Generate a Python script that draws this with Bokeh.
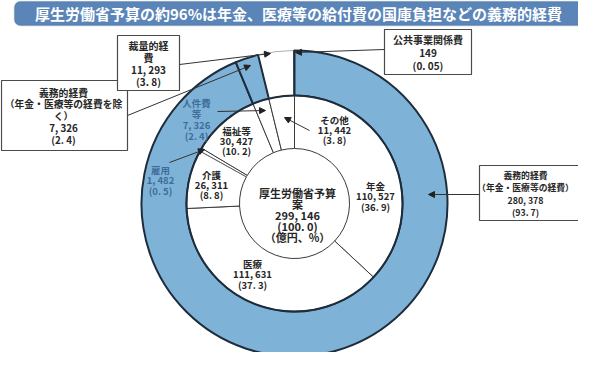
import math
from bokeh.plotting import figure
from bokeh.models import Arrow, NormalHead, BoxAnnotation, Label
from bokeh.core.properties import value
from bokeh.embed import file_html
from bokeh.resources import INLINE

# ---------------- data ----------------
title = "厚生労働省予算の約96%は年金、医療等の給付費の国庫負担などの義務的経費"

inner_names = ["年金", "医療", "介護", "雇用", "福祉等", "人件費等", "その他"]
inner_values = [110527, 111631, 26311, 1482, 30427, 7326, 11442]
inner_pcts = ["36.9", "37.3", "8.8", "0.5", "10.2", "2.4", "3.8"]

outer_names = ["義務的経費（年金・医療等の経費）", "義務的経費（年金・医療等の経費を除く）",
               "裁量的経費", "公共事業関係費"]
outer_values = [280378, 7326, 11293, 149]
outer_pcts = ["93.7", "2.4", "3.8", "0.05"]

total_name = "厚生労働省予算案"
total_value = 299146
total_pct = "100.0"
unit_text = "（億円、%）"

# ---------------- style / layout ----------------
FONT_NAME = "Noto Sans CJK JP"
FONT = value(FONT_NAME)
W, H = 578, 352
BLUE = "#7fb2d7"
DARK = "#1e2d3c"
TXT = "#262626"
BTXT = "#3d6d9a"


def X(px):
    return px - 8


def Y(py):
    return 360 - py


CX, CY = X(302), Y(211)
R_OUT, R_MID, R_IN = 153, 108, 55


def fmt_num(v):
    return f"{v:,}".replace(",", ", ")


def fmt_pct(s):
    return "(" + s.replace(".", ". ") + ")"


def split(name, breaks):
    out, prev = [], 0
    for b in breaks:
        out.append(name[prev:b])
        prev = b
    out.append(name[prev:])
    return out


def angles(vals):
    tot = sum(vals)
    cum = 0
    st, en = [], []
    for v in vals:
        st.append(math.pi / 2 - 2 * math.pi * cum / tot)
        cum += v
        en.append(math.pi / 2 - 2 * math.pi * cum / tot)
    return st, en


p = figure(width=W, height=H, x_range=(0, W), y_range=(0, H),
           output_backend="svg", toolbar_location=None, min_border=0)
p.xaxis.visible = False
p.yaxis.visible = False
p.grid.visible = False
p.outline_line_color = None
p.background_fill_color = "white"

# ---------------- outer ring ----------------
o_st, o_en = angles(outer_values)
o_fill = [BLUE, BLUE, "white", "white"]
o_line = [DARK, DARK, "#9a9a9a", DARK]
o_lw = [2, 2, 0.8, 1.6]
for i in [2, 3, 0, 1]:
    p.annular_wedge(x=CX, y=CY, inner_radius=R_MID, outer_radius=R_OUT,
                    start_angle=o_st[i], end_angle=o_en[i], direction="clock",
                    fill_color=o_fill[i], line_color=o_line[i], line_width=o_lw[i])

# ---------------- inner ring ----------------
i_st, i_en = angles(inner_values)
i_line = ["#3a3a3a"] * len(inner_values)
i_line[inner_names.index("雇用")] = "#6a6a6a"
for i in range(len(inner_values)):
    p.annular_wedge(x=CX, y=CY, inner_radius=R_IN, outer_radius=R_MID,
                    start_angle=i_st[i], end_angle=i_en[i], direction="clock",
                    fill_color="white", line_color=i_line[i], line_width=1)
p.arc(x=CX, y=CY, radius=R_MID, start_angle=0, end_angle=2 * math.pi,
      line_color=DARK, line_width=2)


def draw_lines(lines, cx, y0, step, size, color):
    p.text(x=[X(cx)] * len(lines), y=[Y(y0 + k * step) for k in range(len(lines))],
           text=lines, text_align="center", text_baseline="middle",
           text_color=color, text_font=FONT, text_font_style="bold",
           text_font_size=size)


# ---------------- callout boxes (outer ring) ----------------
box_layout = [
    # name index, left, right, top, bottom, text cx, first y, step, breaks, size
    (0, 487, 600, 173, 228, 533, 183, 12.3, [5], "8.8px"),
    (1, 9, 135, 88, 158, 71, 100, 11.8, [5, 17], "9.8px"),
    (2, 125, 187, 43, 98, 156, 53, 12, [4], "10px"),
    (3, 392, 479, 37, 82, 435.5, 47, 13, [], "10px"),
]
for idx, l, r, t, b, tcx, ty, step, br, fs in box_layout:
    p.quad(left=[X(l)], right=[X(r)], top=[Y(t)], bottom=[Y(b)],
           fill_color="white", line_color="#4a4a4a", line_width=1.2)
    lines = split(outer_names[idx], br) + [fmt_num(outer_values[idx]), fmt_pct(outer_pcts[idx])]
    draw_lines(lines, tcx, ty, step, fs, TXT)

# ---------------- inner labels ----------------
inner_layout = {
    "年金": (383, 193, 10.5, [], TXT),
    "医療": (260, 271, 10.5, [], TXT),
    "介護": (219, 182, 10.3, [], TXT),
    "雇用": (168, 177, 10.5, [], BTXT),
    "福祉等": (244, 138, 10, [], TXT),
    "人件費等": (204, 110, 11, [3], BTXT),
    "その他": (342, 127, 10, [], TXT),
}
for k, name in enumerate(inner_names):
    cx, y0, step, br, col = inner_layout[name]
    lines = split(name, br) + [fmt_num(inner_values[k]), fmt_pct(inner_pcts[k])]
    draw_lines(lines, cx, y0, step, "9.5px", col)

# center
center_lines = split(total_name, [7]) + [fmt_num(total_value), fmt_pct(total_pct), unit_text]
draw_lines(center_lines, 305, 200, 11, "11px", TXT)

# ---------------- arrows ----------------
arrows = [
    (187, 72, 278, 61),
    (135, 123, 258, 73),
    (392, 57, 303, 60),
    (487, 202, 436, 202),
    (225, 119, 273, 118),
    (177, 170, 212, 157),
    (317, 138, 292, 125),
]
for x0, y0, x1, y1 in arrows:
    p.add_layout(Arrow(end=NormalHead(size=6, fill_color="#222222", line_color="#222222"),
                       x_start=X(x0), y_start=Y(y0), x_end=X(x1), y_end=Y(y1),
                       line_color="#333333", line_width=1))

# ---------------- title bar ----------------
p.add_layout(BoxAnnotation(left=X(22), right=X(592), top=Y(9), bottom=Y(33),
                           fill_color="#5b85b8", fill_alpha=1,
                           line_color="#3f638f", line_width=1.5, border_radius=6))
p.add_layout(Label(x=X(306), y=Y(21), text=title, text_align="center",
                   text_baseline="middle", text_color="white", text_font=FONT_NAME,
                   text_font_style="bold", text_font_size="15px"))

open("out.html", "w").write(file_html(p, INLINE))
